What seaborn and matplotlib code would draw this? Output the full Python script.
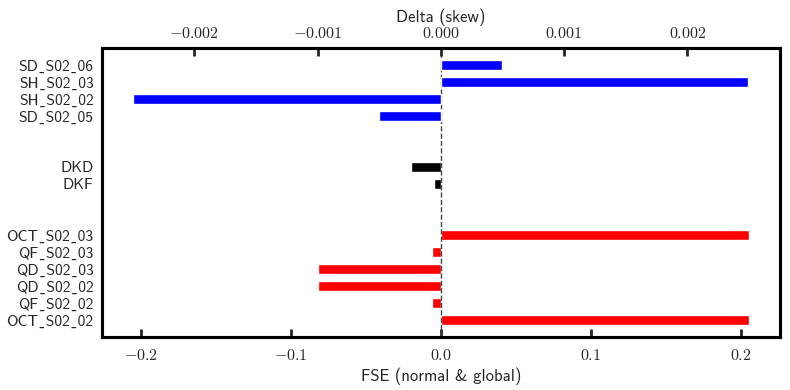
import matplotlib
matplotlib.use('Agg')
import matplotlib.pyplot as plt
from matplotlib.ticker import FuncFormatter
import seaborn as sns
import numpy as np

# quads / octupoles (FSE, bottom axis)
red_names = ['OCT_S02_02', 'QF_S02_02', 'QD_S02_02', 'QD_S02_03', 'QF_S02_03', 'OCT_S02_03']
red_vals = [0.2053, -0.006, -0.082, -0.082, -0.006, 0.2053]
red_pos = [0, 1, 2, 3, 4, 5]

# dipoles (FSE, bottom axis)
black_names = ['DKF', 'DKD']
black_vals = [-0.0047, -0.020]
black_pos = [8, 9]

# sextupoles (Delta skew, top axis)
blue_names = ['SD_S02_05', 'SH_S02_02', 'SH_S02_03', 'SD_S02_06']
blue_vals = [-0.0005, -0.0025, 0.00249, 0.0005]
blue_pos = [12, 13, 14, 15]

sns.set_style('white')
# cmss10 draws '_' as a dot accent, so use a low macron that falls back to DejaVu
plt.rcParams['font.family'] = ['cmss10', 'DejaVu Sans']
plt.rcParams['mathtext.fontset'] = 'cm'
plt.rcParams['axes.unicode_minus'] = False

fig = plt.figure(figsize=(7.9, 3.9), dpi=100)
ax = fig.add_axes([0.129, 0.136, 0.858, 0.741])

sns.barplot(x=red_vals, y=red_pos, orient='y', native_scale=True, color='red',
            saturation=1, width=0.6, ax=ax)
sns.barplot(x=black_vals, y=black_pos, orient='y', native_scale=True, color='black',
            saturation=1, width=0.6, ax=ax)
ax.axvline(0, color='#444444', ls='--', lw=1, zorder=5)

lim1 = 1.1 * max(np.abs(red_vals + black_vals))
ax.set_xlim(-lim1, lim1)

ax2 = ax.twiny()
sns.barplot(x=blue_vals, y=blue_pos, orient='y', native_scale=True, color='blue',
            saturation=1, width=0.6, ax=ax2)
lim2 = 1.1 * max(np.abs(blue_vals))
ax2.set_xlim(-lim2, lim2)

ax.set_ylim(-1, 16)
ax2.set_ylim(-1, 16)
labels = [n.replace('_', '\u02cd') for n in red_names + black_names + blue_names]
ax.set_yticks(red_pos + black_pos + blue_pos)
ax.set_yticklabels(labels, fontsize=11.2)

ax.set_xticks([-0.2, -0.1, 0.0, 0.1, 0.2])
ax.xaxis.set_major_formatter(FuncFormatter(lambda v, p: '$%.1f$' % v))
ax2.set_xticks([-0.002, -0.001, 0.0, 0.001, 0.002])
ax2.xaxis.set_major_formatter(FuncFormatter(lambda v, p: '$%.3f$' % v))

ax.set_xlabel('FSE (normal & global)', fontsize=12, labelpad=3)
ax2.set_xlabel('Delta (skew)', fontsize=12, labelpad=3)
ax.set_ylabel('')
ax2.set_ylabel('')

ax.tick_params(axis='x', direction='in', length=6, width=2, labelsize=11.5, pad=8)
ax2.tick_params(axis='x', direction='in', length=6, width=2, labelsize=11.5, pad=5)
ax.tick_params(axis='y', length=0, labelsize=11.2, pad=6)
ax2.tick_params(axis='y', length=0)

for a in (ax, ax2):
    for s in a.spines.values():
        s.set_visible(True)
        s.set_linewidth(2.2)
        s.set_color('black')

fig.savefig('out.png', dpi=100)
